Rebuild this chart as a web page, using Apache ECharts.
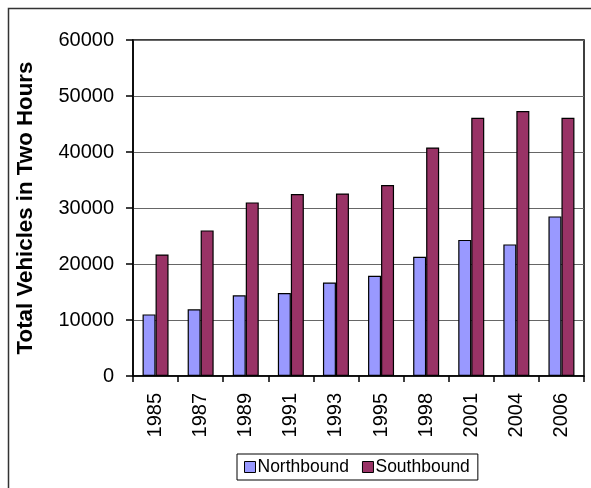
<!DOCTYPE html>
<html>
<head>
<meta charset="utf-8">
<script src="https://cdn.jsdelivr.net/npm/echarts@6/dist/echarts.min.js"></script>
<style>
html,body{margin:0;padding:0;background:#fff;}
#chart{width:591px;height:488px;}
</style>
</head>
<body>
<div id="chart"></div>
<script>
var years = ['1985','1987','1989','1991','1993','1995','1998','2001','2004','2006'];
var northbound = [11000, 11900, 14400, 14800, 16700, 17900, 21300, 24300, 23500, 28500];
var southbound = [21700, 26000, 31000, 32500, 32600, 34100, 40800, 46100, 47300, 46100];
var yTicks = [0, 10000, 20000, 30000, 40000, 50000, 60000];

var FONT = '"Liberation Sans", Arial, sans-serif';
var chart = echarts.init(document.getElementById('chart'), null, {renderer: 'canvas'});
chart.setOption({
  animation: false,
  backgroundColor: '#fff',
  textStyle: {fontFamily: FONT},
  graphic: [{
    type: 'rect',
    shape: {x: 8.5, y: 8.5, width: 1000, height: 1000},
    style: {fill: 'none', stroke: '#333', lineWidth: 1.5},
    silent: true
  }],
  grid: {
    left: 133, top: 40, right: 7, bottom: 112,
    show: true, borderColor: '#000', borderWidth: 1.5, backgroundColor: 'transparent'
  },
  legend: {
    left: 237, top: 454,
    data: ['Northbound', 'Southbound'],
    icon: 'rect',
    itemWidth: 11, itemHeight: 11, itemGap: 13,
    padding: [4, 8, 4, 7],
    borderColor: '#000', borderWidth: 1,
    textStyle: {fontFamily: FONT, fontSize: 17.5, color: '#000', padding: [0, 0, 0, -3]},
    itemStyle: {borderColor: '#000', borderWidth: 1}
  },
  xAxis: {
    type: 'category',
    data: years,
    axisLine: {lineStyle: {color: '#000', width: 1.5}},
    axisTick: {show: true, length: 6, lineStyle: {color: '#000', width: 1.5}},
    axisLabel: {rotate: 90, fontSize: 20, color: '#000', fontFamily: FONT, margin: 17, interval: 0}
  },
  yAxis: {
    type: 'value',
    min: 0, max: 60000, interval: 10000,
    name: 'Total Vehicles in Two Hours',
    nameLocation: 'middle',
    nameGap: 96,
    nameTextStyle: {fontSize: 22.3, fontWeight: 'bold', color: '#000', fontFamily: FONT},
    axisLine: {show: true, lineStyle: {color: '#000', width: 1.5}},
    axisTick: {show: true, length: 7, lineStyle: {color: '#000', width: 1.5}},
    axisLabel: {fontSize: 20, color: '#000', fontFamily: FONT, margin: 19,
      formatter: function (v) { return yTicks.indexOf(v) >= 0 ? String(v) : ''; }},
    splitLine: {show: true, lineStyle: {color: '#666', width: 1.2}}
  },
  series: [{
    name: 'Northbound',
    type: 'bar',
    data: northbound,
    barWidth: 13,
    barGap: '0%',
    itemStyle: {color: '#9999FF', borderColor: '#000', borderWidth: 1.2}
  }, {
    name: 'Southbound',
    type: 'bar',
    data: southbound,
    barWidth: 13,
    barGap: '0%',
    itemStyle: {color: '#993366', borderColor: '#000', borderWidth: 1.2}
  }]
});
</script>
</body>
</html>
